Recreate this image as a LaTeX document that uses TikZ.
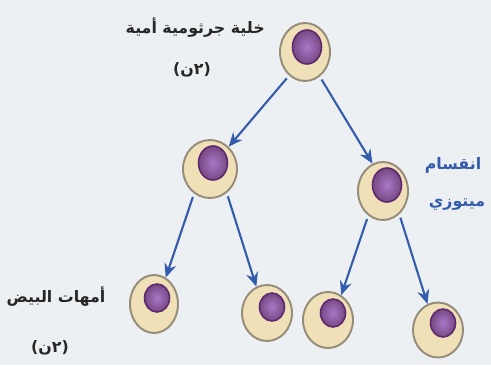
\documentclass[tikz,border=0pt]{standalone}
\usepackage{fontspec}
\newfontfamily\arabicfont[Script=Arabic]{DejaVu Sans}
\TeXXeTstate=1
\definecolor{paper}{RGB}{237, 240, 243}
\definecolor{cytocream}{RGB}{240, 224, 184}
\definecolor{cellrim}{RGB}{150, 140, 122}
\definecolor{nucleuslight}{RGB}{170, 120, 200}
\definecolor{nucleusdark}{RGB}{95, 40, 110}
\definecolor{arrowblue}{RGB}{52, 92, 172}
\usetikzlibrary{shapes.geometric, arrows.meta}

\tikzset{
  cell/.style={ellipse, draw=cellrim, line width=1.1pt, fill=cytocream,
    minimum width=1.0cm, minimum height=1.16cm, inner sep=0pt},
  nucleus/.style={ellipse, draw=nucleusdark, line width=0.9pt, inner color=nucleuslight,
    outer color=nucleusdark!85, minimum width=0.58cm, minimum height=0.68cm, inner sep=0pt},
  smallnucleus/.style={nucleus, minimum width=0.5cm, minimum height=0.56cm},
  division/.style={-{Stealth[length=2.8mm, width=2.4mm]}, arrowblue, line width=1.2pt,
    shorten <=2pt},
  label/.style={font=\arabicfont\bfseries\small, text=black!85},
}

\begin{document}
\begin{tikzpicture}
  \fill[paper] (0, 0) rectangle (9.82, 7.30);
  \useasboundingbox (0, 0) rectangle (9.82, 7.30);

  % Mother germ cell
  \node[cell] (top) at (6.10, 6.26) {};
  \node[nucleus] (topn) at (6.14, 6.36) {};

  % After the first division
  \node[cell, minimum width=1.08cm] (midL) at (4.20, 3.92) {};
  \node[nucleus] (midLn) at (4.26, 4.04) {};
  \node[cell] (midR) at (7.66, 3.48) {};
  \node[nucleus] (midRn) at (7.74, 3.60) {};

  % Oogonia
  \node[cell, minimum width=0.96cm] (b1) at (3.08, 1.22) {};
  \node[smallnucleus] (b1n) at (3.14, 1.34) {};
  \node[cell, minimum height=1.12cm] (b2) at (5.34, 1.04) {};
  \node[smallnucleus] (b2n) at (5.44, 1.16) {};
  \node[cell, minimum height=1.12cm] (b3) at (6.56, 0.90) {};
  \node[smallnucleus] (b3n) at (6.66, 1.04) {};
  \node[cell, minimum height=1.10cm] (b4) at (8.76, 0.70) {};
  \node[smallnucleus] (b4n) at (8.86, 0.84) {};

  % Mitosis arrows
  \draw[division] (top.236) -- (midL.50);
  \draw[division] (top.301) -- (midR.111);
  \draw[division] (midL.237) -- (b1.66);
  \draw[division] (midL.305) -- (b2.112);
  \draw[division] (midR.239) -- (b3.62);
  \draw[division] (midR.305) -- (b4.112);

  % Labels
  \node[label, anchor=east] (toplbl) at (5.42, 6.74) {\beginR خلية جرثومية أمية\endR};
  \node[label] (topploidy) at (3.84, 5.90) {\beginR (٢ن)\endR};
  \node[label, text=arrowblue] (mitosis1) at (9.06, 4.00) {\beginR انقسام\endR};
  \node[label, text=arrowblue] (mitosis2) at (9.14, 3.20) {\beginR ميتوزي\endR};
  \node[label] (oolbl) at (1.12, 1.36) {\beginR أمهات البيض\endR};
  \node[label] (ooploidy) at (1.00, 0.34) {\beginR (٢ن)\endR};
\end{tikzpicture}
\end{document}
